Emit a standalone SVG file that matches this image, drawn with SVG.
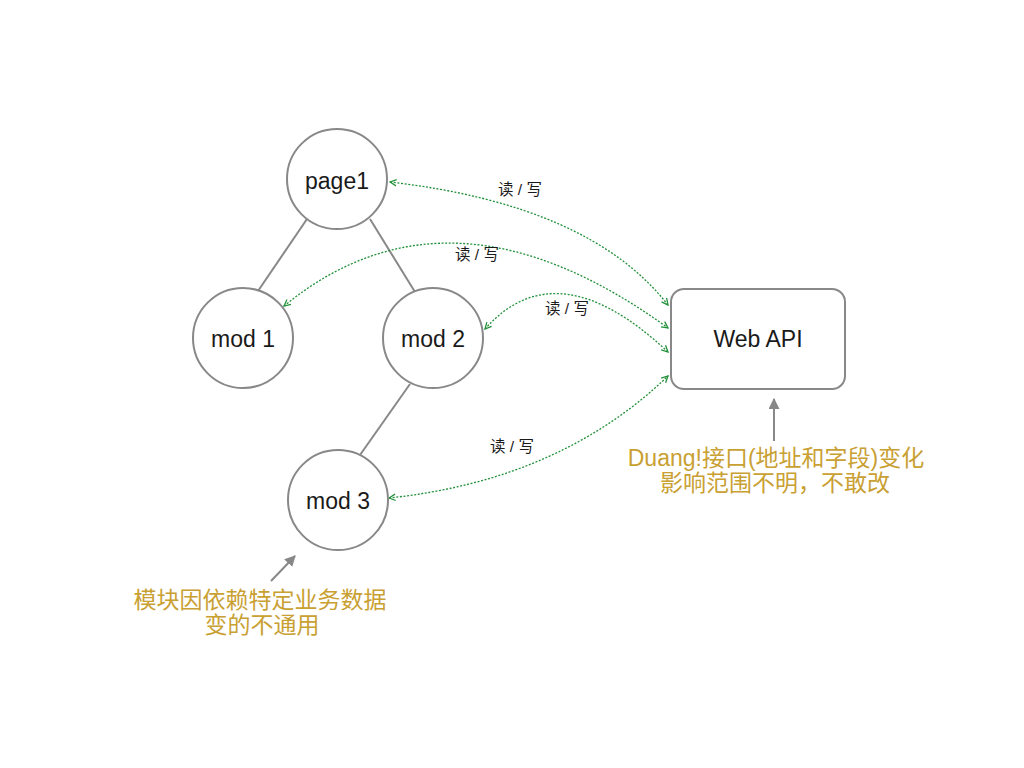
<svg xmlns="http://www.w3.org/2000/svg" width="1024" height="768" viewBox="0 0 1024 768">
<style>
.node{fill:#fff;stroke:#888;stroke-width:2}
.lbl{font-family:"Liberation Sans","Noto Sans CJK SC",sans-serif;font-size:23px;fill:#1a1a1a;text-anchor:middle}
.tree{stroke:#888;stroke-width:2;fill:none}
.rw{fill:none;stroke:#23913a;stroke-width:1.3;stroke-dasharray:2 1.6;marker-start:url(#ga);marker-end:url(#ga)}
.rwt{font-family:"Liberation Sans","Noto Sans CJK SC",sans-serif;font-size:15.5px;fill:#1a1a1a;text-anchor:middle}
.note{font-family:"Liberation Sans","Noto Sans CJK SC",sans-serif;font-size:23px;fill:#c9a032;text-anchor:middle}
.ptr{stroke:#888;stroke-width:2;fill:none;marker-end:url(#pa)}
</style>
<defs>
<marker id="ga" viewBox="0 0 10 10" refX="9" refY="5" markerWidth="8" markerHeight="8" markerUnits="userSpaceOnUse" orient="auto-start-reverse">
<path d="M1,1 L9,5 L1,9" fill="none" stroke="#23913a" stroke-width="1.6"/>
</marker>
<marker id="pa" viewBox="0 0 10 10" refX="9" refY="5" markerWidth="11" markerHeight="11" markerUnits="userSpaceOnUse" orient="auto">
<path d="M0,0 L10,5 L0,10 Z" fill="#888"/>
</marker>
</defs>
<rect width="1024" height="768" fill="#fff"/>
<g id="connectors">
<line class="tree" x1="307" y1="219" x2="258" y2="291"/>
<line class="tree" x1="370" y1="219" x2="415" y2="292"/>
<line class="tree" x1="410" y1="384" x2="360" y2="455"/>
<path class="rw" d="M390,182 Q590,205 668,305"/>
<path class="rw" d="M284,306 Q450,170 668,328"/>
<path class="rw" d="M485,329 Q557,248 668,352"/>
<path class="rw" d="M389,498 Q560,480 668,376"/>
<text class="rwt" x="520" y="195">读 / 写</text>
<text class="rwt" x="477" y="260">读 / 写</text>
<text class="rwt" x="567" y="314">读 / 写</text>
<text class="rwt" x="512" y="452">读 / 写</text>
<line class="ptr" x1="774" y1="441" x2="774" y2="399"/>
<line class="ptr" x1="271" y1="581" x2="295" y2="556"/>
</g>
<g id="page1"><circle class="node" cx="337" cy="179" r="50"/><text class="lbl" x="337" y="189">page1</text></g>
<g id="mod1"><circle class="node" cx="243" cy="338" r="50"/><text class="lbl" x="243" y="347">mod 1</text></g>
<g id="mod2"><circle class="node" cx="433" cy="338" r="50"/><text class="lbl" x="433" y="347">mod 2</text></g>
<g id="mod3"><circle class="node" cx="338" cy="500" r="50"/><text class="lbl" x="338" y="509">mod 3</text></g>
<g id="webapi"><rect class="node" x="671" y="289" width="174" height="100" rx="13"/><text class="lbl" x="758" y="347">Web API</text></g>
<g id="note-api"><text class="note" x="776" y="466">Duang!接口(地址和字段)变化</text><text class="note" x="775" y="491">影响范围不明，不敢改</text></g>
<g id="note-mod"><text class="note" x="260" y="608">模块因依赖特定业务数据</text><text class="note" x="262" y="633">变的不通用</text></g>
</svg>
